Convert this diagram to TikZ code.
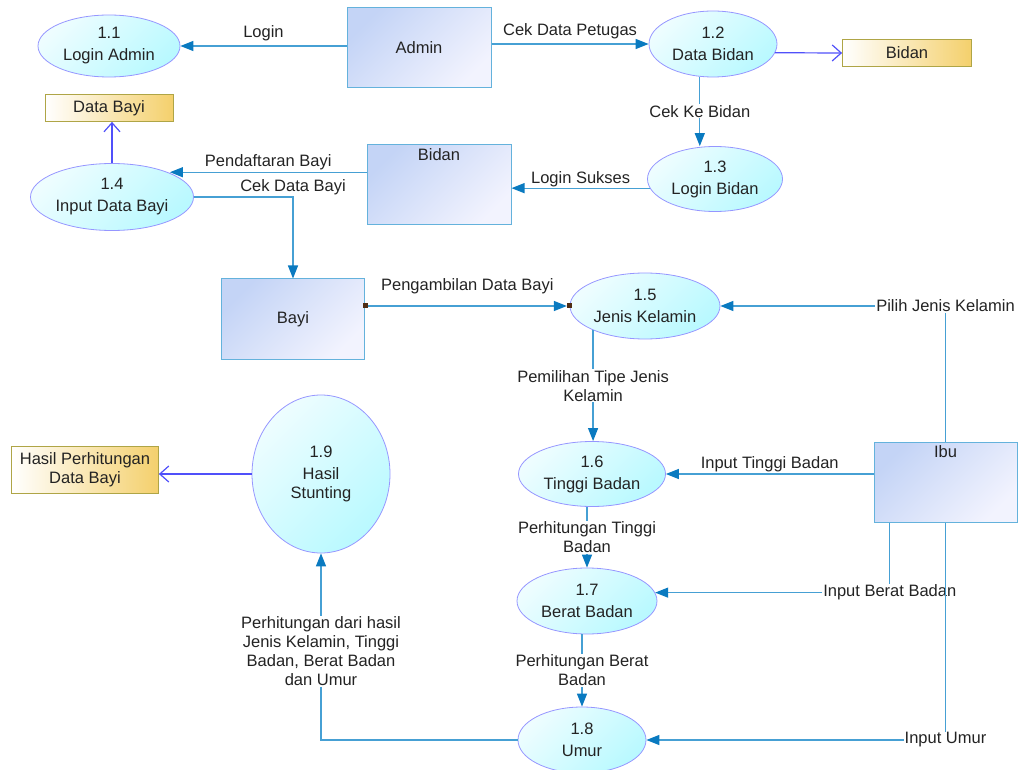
\documentclass[tikz,border=0pt]{standalone}
\usepackage{fontspec}
\setmainfont{Liberation Sans}
\usetikzlibrary{shapes.geometric,arrows.meta}
\definecolor{flowc}{RGB}{70,160,212}
\definecolor{tipc}{RGB}{10,122,192}
\definecolor{ellb}{RGB}{150,150,255}
\definecolor{ellL}{RGB}{238,253,255}
\definecolor{ellR}{RGB}{185,249,255}
\definecolor{boxb}{RGB}{100,178,220}
\definecolor{boxL}{RGB}{196,212,246}
\definecolor{boxR}{RGB}{242,243,254}
\definecolor{stb}{RGB}{175,165,70}
\definecolor{stR}{RGB}{244,208,108}
\definecolor{openc}{RGB}{80,80,250}
\definecolor{txtc}{RGB}{35,35,35}
\definecolor{sqc}{RGB}{80,45,20}
\begin{document}
\begin{tikzpicture}[x=1pt,y=-1pt,
  font=\fontsize{16.5}{19}\selectfont, text=txtc,
  proc/.style={ellipse, draw=ellb, line width=0.8pt, top color=ellL, bottom color=ellR,
    shading angle=45, inner sep=0pt, align=center},
  ent/.style={rectangle, draw=boxb, line width=1pt, top color=boxL, bottom color=boxR,
    shading angle=45, inner sep=0pt, align=center},
  store/.style={rectangle, draw=stb, line width=0.8pt, left color=white, right color=stR,
    inner sep=0pt, align=center},
  flow/.style={draw=flowc, line width=1.2pt, -{Triangle[length=13pt,width=10pt,color=tipc]}},
  openflow/.style={draw=openc, line width=1.2pt, -{Straight Barb[length=9pt,width=16pt]}},
  lbl/.style={text=txtc, inner sep=1pt, align=center},
  lblw/.style={lbl, fill=white},
  sq/.style={rectangle, fill=sqc, minimum size=5pt, inner sep=0pt}
]
\useasboundingbox (0,0) rectangle (1018,770);

% processes
\node[proc, minimum width=142pt, minimum height=62pt] (p11) at (109,46) {1.1\\[3pt]Login Admin};
\node[proc, minimum width=128pt, minimum height=66pt] (p12) at (713,44) {1.2\\[3pt]Data Bidan};
\node[proc, minimum width=135pt, minimum height=65pt] (p13) at (715,179) {1.3\\[3pt]Login Bidan};
\node[proc, minimum width=163pt, minimum height=67pt] (p14) at (112,197) {1.4\\[3pt]Input Data Bayi};
\node[proc, minimum width=150pt, minimum height=66pt] (p15) at (645,306) {1.5\\[3pt]Jenis Kelamin};
\node[proc, minimum width=147pt, minimum height=65pt] (p16) at (592,474) {1.6\\[3pt]Tinggi Badan};
\node[proc, minimum width=140pt, minimum height=66pt] (p17) at (587,601) {1.7\\[3pt]Berat Badan};
\node[proc, minimum width=128pt, minimum height=66pt] (p18) at (582,740) {1.8\\[3pt]Umur};
\node[proc, minimum width=138pt, minimum height=158pt] (p19) at (321,474) {1.9\\[3pt]Hasil\\Stunting};

% entities
\node[ent, minimum width=144pt, minimum height=80pt] (admin) at (419,48) {Admin};
\node[ent, minimum width=144pt, minimum height=80pt,
  label={[anchor=north, inner sep=4pt, text=txtc]north:Bidan}] (bidan) at (439,185) {};
\node[ent, minimum width=143pt, minimum height=80pt] (bayi) at (293,319) {Bayi};
\node[ent, minimum width=143pt, minimum height=80pt,
  label={[anchor=north, inner sep=4pt, text=txtc]north:Ibu}] (ibu) at (945.5,482) {};

% data stores
\node[store, minimum width=129pt, minimum height=27pt] (sBidan) at (907,53) {Bidan};
\node[store, minimum width=128pt, minimum height=27pt] (sBayi) at (109,108) {Data Bayi};
\node[store, minimum width=147pt, minimum height=47pt] (sHasil) at (85,470) {Hasil Perhitungan\\Data Bayi};

% flows
\draw[flow] (admin.west |- p11) -- node[lbl, above=3pt] {Login} (p11.east);
\draw[flow] (admin.east |- p12) -- node[lbl, above=3pt] {Cek Data Petugas} (p12.west);
\draw[openflow] (p12.352) -- (sBidan.west);
\draw[flow] (p12.248) -- node[lblw] {Cek Ke Bidan} (p12.248 |- p13.north);
\draw[flow] (p13.188) -- node[lbl, above] {Login Sukses} (p13.188 -| bidan.east);
\draw[flow] (bidan.170) -- node[lbl, above=1pt] {Pendaftaran Bayi} (bidan.170 -| p14.north east);
\draw[flow] (p14.east) -| node[lbl, pos=0.5, above] {Cek Data Bayi} (bayi.north);
\draw[openflow] (p14.north) -- (p14.north |- sBayi.south);

\node[sq] (sqA) at (bayi.east |- p15) {};
\node[sq] (sqB) at (p15.west) {};
\draw[flow] (sqA) -- node[lbl, above=10pt] {Pengambilan Data Bayi} (sqB);

\draw[flow] (ibu.north) |- node[lblw, pos=0.5] {Pilih Jenis Kelamin} (p15.east);
\draw[flow] (p15.205) -- node[lblw] {Pemilihan Tipe Jenis\\Kelamin} (p15.205 |- p16.north);
\draw[flow] (ibu.west |- p16) -- node[lbl, above] {Input Tinggi Badan} (p16.east);
\draw[flow] (p17.north |- p16.south) -- node[lblw] {Perhitungan Tinggi\\Badan} (p17.north);
\draw[flow] (ibu.216) |- node[lblw, pos=0.5] {Input Berat Badan} (p17.7);
\draw[flow] (p18.north |- p17.south) -- node[lblw] {Perhitungan Berat\\Badan} (p18.north);
\draw[flow] (ibu.south) |- node[lblw, pos=0.5] {Input Umur} (p18.east);
\draw[flow] (p18.west) -| node[lblw, pos=0.737] {Perhitungan dari hasil\\Jenis Kelamin, Tinggi\\Badan, Berat Badan\\dan Umur} (p19.south);
\draw[openflow] (p19.west) -- (p19.west -| sHasil.east);
\end{tikzpicture}
\end{document}
